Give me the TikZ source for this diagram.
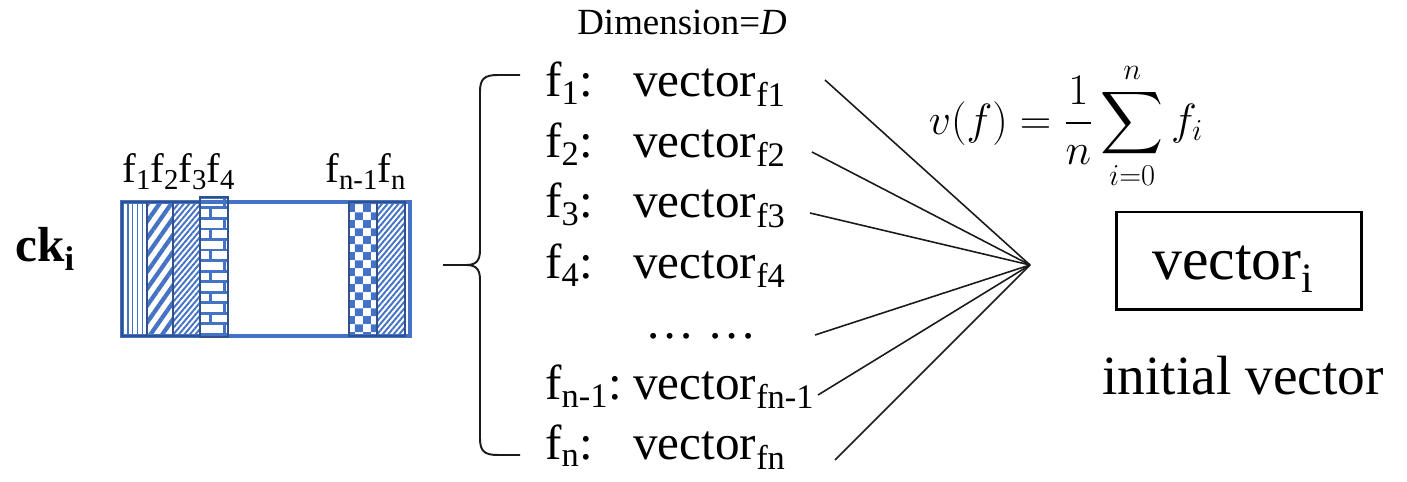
\documentclass[tikz,border=0pt]{standalone}
\usepackage{amsmath}
\usepackage{fontspec}
\setmainfont{LiberationSerif-Regular.ttf}[BoldFont=LiberationSerif-Bold.ttf,ItalicFont=LiberationSerif-Italic.ttf,BoldItalicFont=LiberationSerif-BoldItalic.ttf]
\usepackage{tikz}
\usetikzlibrary{patterns,patterns.meta}
\definecolor{bar}{HTML}{4472C4}
\definecolor{bardk}{HTML}{2F528F}
\definecolor{ink}{HTML}{1A1A1A}
\pgfdeclarepatternformonly{bigcheck}{\pgfpointorigin}{\pgfqpoint{9pt}{9pt}}{\pgfqpoint{9pt}{9pt}}{%
  \pgfpathrectangle{\pgfpointorigin}{\pgfqpoint{4.5pt}{4.5pt}}%
  \pgfpathrectangle{\pgfqpoint{4.5pt}{4.5pt}}{\pgfqpoint{4.5pt}{4.5pt}}%
  \pgfusepath{fill}}
\pgfdeclarepatternformonly{brickwall}{\pgfqpoint{-1pt}{-1pt}}{\pgfqpoint{17pt}{13pt}}{\pgfqpoint{16pt}{12pt}}{%
  \pgfsetlinewidth{1.6pt}%
  \pgfpathmoveto{\pgfqpoint{0pt}{0pt}}\pgfpathlineto{\pgfqpoint{16pt}{0pt}}%
  \pgfpathmoveto{\pgfqpoint{0pt}{6pt}}\pgfpathlineto{\pgfqpoint{16pt}{6pt}}%
  \pgfpathmoveto{\pgfqpoint{0pt}{0pt}}\pgfpathlineto{\pgfqpoint{0pt}{6pt}}%
  \pgfpathmoveto{\pgfqpoint{8pt}{6pt}}\pgfpathlineto{\pgfqpoint{8pt}{12pt}}%
  \pgfusepath{stroke}}
\tikzset{
  strip/.style={draw=bardk,line width=1.7pt,pattern color=bar},
  pvert/.style={pattern={Lines[angle=90,distance=2.8pt,line width=0.7pt]}},
  pwide/.style={pattern={Lines[angle=55,distance=5.5pt,line width=2.4pt]}},
  pthin/.style={pattern={Lines[angle=50,distance=2.4pt,line width=1.1pt]}},
  pbrick/.style={pattern=brickwall},
  pcheck/.style={pattern=bigcheck},
  flbl/.style={font=\fontsize{23.4}{28}\selectfont,anchor=base west,inner sep=0pt},
  row/.style={font=\fontsize{28}{34}\selectfont,anchor=base west,inner sep=0pt},
  big/.style={font=\fontsize{34}{40}\selectfont,anchor=base west,inner sep=0pt},
  fan/.style={line width=0.9pt,color=ink},
  brc/.style={line width=1.1pt,color=ink}}
\begin{document}
\begin{tikzpicture}[x=0.02cm,y=-0.02cm]
\useasboundingbox (0,0) rectangle (1407,482);
\node[anchor=base west,inner sep=0pt,font=\fontsize{28}{34}\selectfont\bfseries] (ck) at (15,262) {ck\textsubscript{i}};
\draw[draw=bar,line width=2.3pt,fill=white] (122,202) rectangle (410,336);
\foreach \xa/\xb/\pat in {122/147/pvert,147/173/pwide,173/200/pthin,349/377/pcheck,377/405/pthin}
  \draw[strip,\pat] (\xa,202) rectangle (\xb,336);
\draw[strip,pbrick] (200,197) rectangle (228,337);
\foreach \k/\x/\t in {1/122/1,2/150/2,3/178/3,4/206/4,m/325/n-1,n/377/n}
  \node[flbl] (l\k) at (\x,183) {f\textsubscript{\t}};
\node[anchor=base west,inner sep=0pt,font=\fontsize{21}{25}\selectfont] (dim) at (577,35) {Dimension=\textit{D}};
\coordinate (brtip) at (443,265);
\draw[brc] (520,75) -- (498,75) .. controls (484,75) and (480,79) .. (480,92) -- (480,250) .. controls (480,261) and (476,265) .. (466,265) -- (brtip);
\draw[brc] (brtip) -- (466,265) .. controls (476,265) and (480,269) .. (480,280) -- (480,438) .. controls (480,451) and (484,455) .. (498,455) -- (520,455);
\foreach \k/\y/\a/\b in {1/97/1/f1,2/157.5/2/f2,3/218/3/f3,4/278.5/4/f4,m/399.5/n-1/fn-1,n/460/n/fn}
  \node[row] (r\k) at (545,\y) {\makebox[1.76cm][l]{f\textsubscript{\a}:}vector\textsubscript{\b}};
\node[row,anchor=base] (dots) at (701,339) {\dots\ \dots};
\coordinate (hub) at (1030,265);
\foreach \k/\x/\y in {1/825/80,2/812/152,3/810/213,4/815/335,5/818/395,6/835/460}
  \coordinate (e\k) at (\x,\y);
\foreach \k in {1,...,6}
  \draw[fan] (e\k) -- (hub);
\node[font=\fontsize{24}{28}\selectfont,inner sep=0pt] (vf) at (1066,126) {$\displaystyle v(f)=\frac{1}{n}\sum_{i=0}^{n}f_i$};
\node[draw,line width=1.7pt,minimum width=4.9cm,minimum height=1.96cm] (vi) at (1239,261) {};
\node[big] (vit) at (1152,280) {vector\textsubscript{i}};
\node[big,font=\fontsize{31.5}{38}\selectfont] (init) at (1102,395) {initial vector};
\end{tikzpicture}
\end{document}
